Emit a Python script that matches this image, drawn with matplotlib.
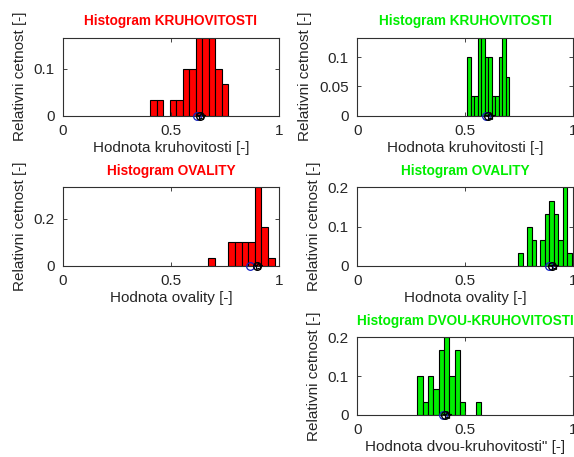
import numpy as np
import matplotlib
matplotlib.use("Agg")
import matplotlib.pyplot as plt

plt.rcParams['font.family'] = ['Liberation Sans', 'DejaVu Sans']

N = 30  # number of measured samples

# kruhovitost, sample A (red)
kruh_a_start = 0.405
kruh_a_width = 0.030
kruh_a_counts = [1, 1, 0, 1, 1, 3, 3, 5, 5, 5, 3, 2]
kruh_a_mean, kruh_a_median = 0.620, 0.632

# kruhovitost, sample B (green)
kruh_b_start = 0.509
kruh_b_width = 0.01625
kruh_b_counts = [3, 1, 1, 4, 4, 3, 3, 1, 1, 3, 4, 2]
kruh_b_mean, kruh_b_median = 0.597, 0.607

# ovalita, sample A (red)
oval_a_start = 0.673
oval_a_width = 0.0307
oval_a_counts = [1, 0, 0, 3, 3, 3, 3, 10, 5, 1]
oval_a_mean, oval_a_median = 0.868, 0.897

# ovalita, sample B (green)
oval_b_start = 0.745
oval_b_width = 0.0206
oval_b_counts = [1, 0, 3, 2, 0, 2, 4, 5, 4, 2, 6, 1]
oval_b_mean, oval_b_median = 0.888, 0.902

# dvou-kruhovitost, sample B (green)
dvou_b_start = 0.278
dvou_b_width = 0.0247
dvou_b_counts = [3, 1, 3, 2, 5, 6, 3, 5, 1, 0, 0, 1]
dvou_b_mean, dvou_b_median = 0.395, 0.407

RED = '#ff0000'
GREEN = '#00ee00'
TXT = '#262626'

W, H = 574, 457
fig = plt.figure(figsize=(W / 100, H / 100), dpi=100)


def px_axes(left, top, right, bottom):
    return fig.add_axes([left / W, 1 - bottom / H, (right - left) / W, (bottom - top) / H])


def hist_panel(ax, start, width, counts, color, title, xlabel, ylim, yticks, yticklabels,
               mean, median):
    counts = np.array(counts)
    lefts = start + width * np.arange(len(counts))
    heights = counts / N
    keep = counts > 0
    ax.bar(lefts[keep], heights[keep], width=width, align='edge', color=color,
           edgecolor='black', linewidth=0.8)
    ax.plot([mean], [0], 'o', ms=5.5, mfc='none', mec='#1020c0', mew=0.9, clip_on=False, zorder=5)
    ax.plot([median], [0], 'o', ms=5.5, mfc='none', mec='black', mew=1.0, clip_on=False, zorder=5)
    ax.plot([median + 0.008], [0], '*', ms=6, mfc='none', mec='black', mew=0.9, clip_on=False, zorder=5)
    ax.set_xlim(0, 1)
    ax.set_ylim(*ylim)
    ax.set_xticks([0, 0.5, 1])
    ax.set_xticklabels(['0', '0.5', '1'])
    ax.set_yticks(yticks)
    ax.set_yticklabels(yticklabels)
    ax.tick_params(direction='in', top=True, right=True, length=3, width=0.6,
                   labelsize=11, colors=TXT, pad=6)
    for s in ax.spines.values():
        s.set_color('#303030')
        s.set_linewidth(0.8)
    ax.set_title(title, color=color, fontsize=9.8, fontweight='bold', pad=9)
    ax.set_xlabel(xlabel, fontsize=11, color=TXT, labelpad=2)
    ax.set_ylabel('Relativni cetnost [-]', fontsize=11, color=TXT, labelpad=5)


ax1 = px_axes(63, 37.5, 279, 115.7)
hist_panel(ax1, kruh_a_start, kruh_a_width, kruh_a_counts, RED,
           'Histogram KRUHOVITOSTI', 'Hodnota kruhovitosti [-]',
           (0, 5 / N), [0, 0.1], ['0', '0.1'], kruh_a_mean, kruh_a_median)

ax2 = px_axes(357.3, 37.5, 573.3, 115.7)
hist_panel(ax2, kruh_b_start, kruh_b_width, kruh_b_counts, GREEN,
           'Histogram KRUHOVITOSTI', 'Hodnota kruhovitosti [-]',
           (0, 4 / N), [0, 0.05, 0.1], ['0', '0.05', '0.1'], kruh_b_mean, kruh_b_median)

ax3 = px_axes(63, 187.5, 279, 265.7)
hist_panel(ax3, oval_a_start, oval_a_width, oval_a_counts, RED,
           'Histogram OVALITY', 'Hodnota ovality [-]',
           (0, 10 / N), [0, 0.2], ['0', '0.2'], oval_a_mean, oval_a_median)

ax4 = px_axes(357.3, 187.5, 573.3, 265.7)
hist_panel(ax4, oval_b_start, oval_b_width, oval_b_counts, GREEN,
           'Histogram OVALITY', 'Hodnota ovality [-]',
           (0, 0.2), [0, 0.1, 0.2], ['0', '0.1', '0.2'], oval_b_mean, oval_b_median)

ax5 = px_axes(357.3, 337.3, 573.3, 415)
hist_panel(ax5, dvou_b_start, dvou_b_width, dvou_b_counts, GREEN,
           'Histogram DVOU-KRUHOVITOSTI', 'Hodnota dvou-kruhovitosti" [-]',
           (0, 0.2), [0, 0.1, 0.2], ['0', '0.1', '0.2'], dvou_b_mean, dvou_b_median)

fig.savefig('out.png', dpi=100)
